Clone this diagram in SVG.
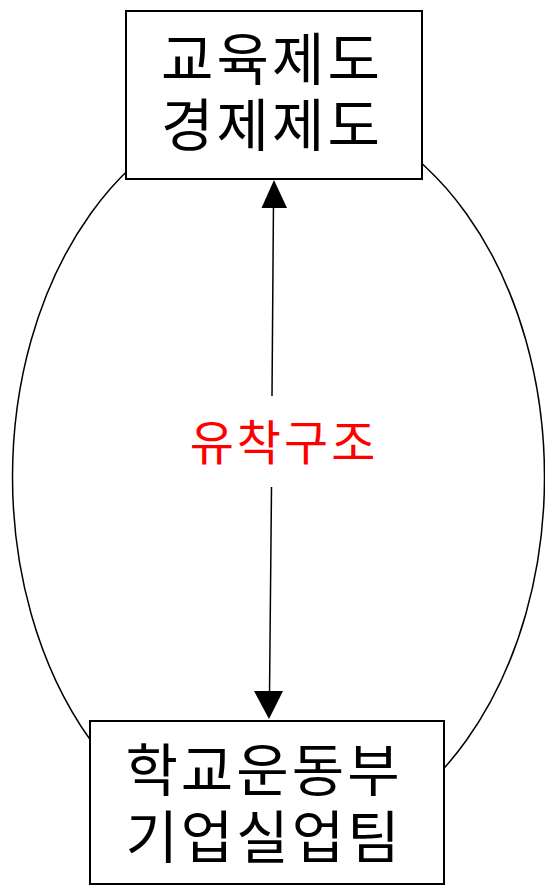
<svg xmlns="http://www.w3.org/2000/svg" width="545" height="891" viewBox="0 0 545 891">
<style>
.box{fill:#fff;stroke:#000;stroke-width:2}
.lbl{font-family:"Noto Sans CJK KR","Noto Sans CJK SC",sans-serif;font-size:57px;letter-spacing:3px;fill:#000;text-anchor:middle}
.red{font-family:"Noto Sans CJK KR","Noto Sans CJK SC",sans-serif;font-size:48px;letter-spacing:3px;fill:#ff0000;text-anchor:middle}
.conn{fill:none;stroke:#000;stroke-width:1.5}
</style>
<g id="connectors">
<ellipse class="conn" cx="278.5" cy="477" rx="266" ry="372"/>
<line class="conn" x1="273.5" y1="200" x2="272" y2="396"/>
<line class="conn" x1="271.5" y1="487" x2="269.5" y2="695"/>
<polygon points="274,180 287,208 261.5,208" fill="#000"/>
<polygon points="269,719 254,691 283,691" fill="#000"/>
</g>
<g id="node-top">
<rect class="box" x="126" y="11" width="296" height="168"/>
<text class="lbl"><tspan x="272" y="80">교육제도</tspan><tspan x="272" dy="66">경제제도</tspan></text>
</g>
<g id="node-bottom">
<rect class="box" x="90" y="721" width="354" height="163"/>
<text class="lbl"><tspan x="264" y="791">학교운동부</tspan><tspan x="264" dy="67">기업실업팀</tspan></text>
</g>
<g id="label">
<text class="red" x="284" y="460">유착구조</text>
</g>
</svg>
